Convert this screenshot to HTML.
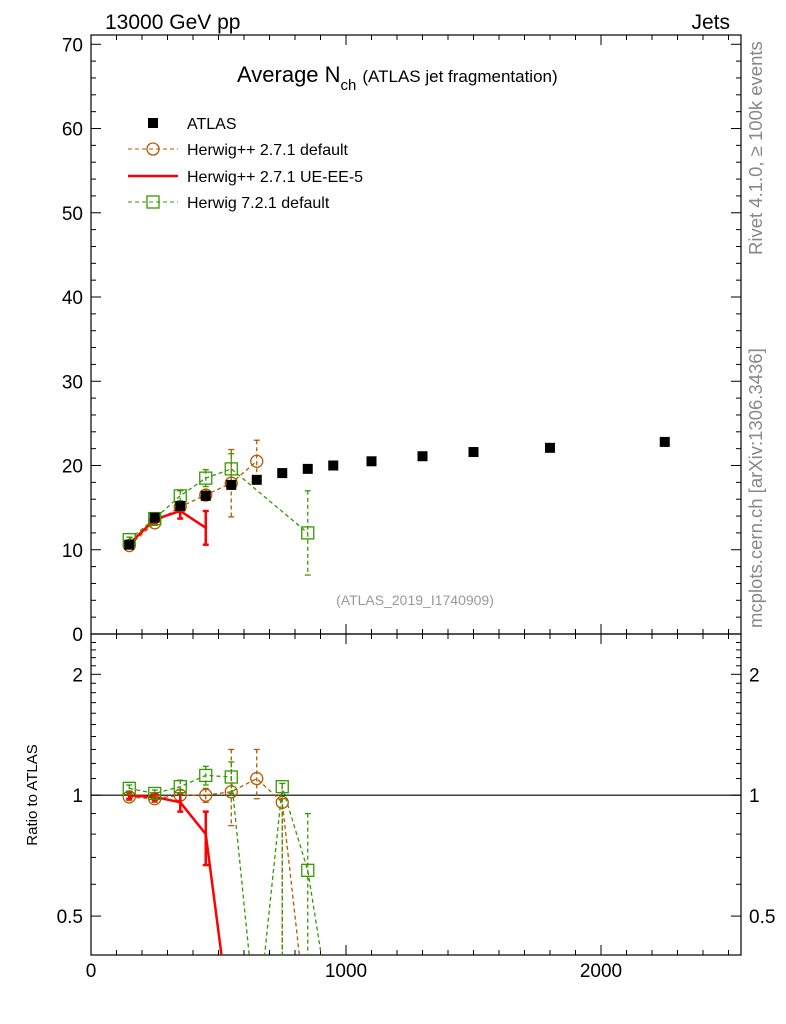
<!DOCTYPE html>
<html><head><meta charset="utf-8"><style>
html,body{margin:0;background:#fff;overflow:hidden;width:786px;height:1024px;}
svg{font-family:"Liberation Sans",sans-serif;display:block;}
</style></head><body>
<svg id="c" width="786" height="1024" xmlns="http://www.w3.org/2000/svg">
<text x="105" y="29" font-size="21">13000 GeV pp</text>
<text x="730" y="29" font-size="21" text-anchor="end">Jets</text>
<text x="237" y="82" font-size="22">Average N<tspan font-size="15" dy="8">ch</tspan><tspan font-size="17" dy="-8" dx="6">(ATLAS jet fragmentation)</tspan></text>
<text transform="translate(762,255) rotate(-90)" font-size="18.5" fill="#888">Rivet 4.1.0, ≥ 100k events</text>
<text transform="translate(762,628) rotate(-90)" font-size="18.5" fill="#888">mcplots.cern.ch [arXiv:1306.3436]</text>
<text x="415" y="605" font-size="14" fill="#999" text-anchor="middle">(ATLAS_2019_I1740909)</text>
<text transform="translate(37,795) rotate(-90)" font-size="15" text-anchor="middle">Ratio to ATLAS</text>
<g id="legend">
<g><rect x="148" y="118" width="10" height="10" fill="#000"/><text x="187" y="129" font-size="16">ATLAS</text></g>
<g><line x1="128" y1="149" x2="178" y2="149" stroke="#b35900" stroke-dasharray="4,3"/><circle cx="153" cy="149" r="6" fill="none" stroke="#b35900" stroke-width="1.3"/><text x="187" y="155" font-size="16">Herwig++ 2.7.1 default</text></g>
<g><line x1="128" y1="176" x2="178" y2="176" stroke="#f00" stroke-width="2.5"/><text x="187" y="182" font-size="16">Herwig++ 2.7.1 UE-EE-5</text></g>
<g><line x1="128" y1="202" x2="178" y2="202" stroke="#339900" stroke-dasharray="4,3"/><rect x="147" y="196" width="12" height="12" fill="none" stroke="#339900" stroke-width="1.3"/><text x="187" y="208" font-size="16">Herwig 7.2.1 default</text></g>
</g>
</svg>
<script>
const xs=[150,250,350,450,550,650,750,850,950,1100,1300,1500,1800,2250];
const atlas=[10.6,13.8,15.2,16.4,17.7,18.3,19.1,19.6,20.0,20.5,21.1,21.6,22.1,22.8];
const hppX=[150,250,350,450,550,650];
const hpp=[10.5,13.2,15.1,16.5,17.9,20.5];
const hppErr=[0.3,0.3,0.4,0.6,4.0,2.5];
const ueX=[150,250,350,450];
const ue=[10.7,13.6,14.6,12.6];
const ueErr=[0.3,0.4,0.9,2.0];
const h7X=[150,250,350,450,550,850];
const h7=[11.2,13.7,16.4,18.5,19.6,12.0];
const h7Err=[0.3,0.4,0.6,1.0,1.8,5.0];
const rX=[150,250,350,450,550,650,750,850,950];
const rHpp=[0.99,0.98,1.0,1.0,1.02,1.1,0.96,0.0];
const rHppUp=[0.02,0.02,0.03,0.04,0.28,0.2,0.02,0];
const rHppDn=[0.02,0.02,0.03,0.04,0.18,0.12,1.0,0];
const rUe=[1.0,0.99,0.96,0.80,0.0];
const rUeUp=[0.02,0.02,0.05,0.11,0];
const rUeDn=[0.02,0.02,0.05,0.13,0];
const rH7=[1.04,1.01,1.05,1.12,1.11,0.0,1.05,0.65,0.0];
const rH7Up=[0.02,0.02,0.04,0.06,0.1,0,0.02,0.25,0];
const rH7Dn=[0.02,0.02,0.04,0.06,0.1,0,1.0,0.4,0];
const yTicks=[0,10,20,30,40,50,60,70];
const rTicks=[0.5,1,2];
const xTicks=[0,1000,2000];

const NS="http://www.w3.org/2000/svg";const svg=document.getElementById('c');
const L=91,R=741,T=35,M=634,B=955;
const X=v=>L+(v/2549)*(R-L);
const Y=v=>M-(v/71.1)*(M-T);
const rLo=0.4,rHi=2.52;
const YR=v=>{if(v<=0.05)return 1030;return M+(Math.log(rHi)-Math.log(v))/(Math.log(rHi)-Math.log(rLo))*(B-M);};
function el(t,a,p){const e=document.createElementNS(NS,t);for(const k in a)e.setAttribute(k,a[k]);(p||svg).appendChild(e);return e;}
const defs=el('defs',{});
const cp1=el('clipPath',{id:'cm'},defs);el('rect',{x:L,y:T,width:R-L,height:M-T},cp1);
const cp2=el('clipPath',{id:'cr'},defs);el('rect',{x:L,y:M,width:R-L,height:B-M},cp2);
const f1=el('rect',{x:L,y:T,width:R-L,height:M-T,fill:'none',stroke:'#000','stroke-width':1.2});


const f2=el('rect',{x:L,y:M,width:R-L,height:B-M,fill:'none',stroke:'#000','stroke-width':1.2});


for(let v=0;v<=70;v+=2){const y=Y(v),maj=v%10===0,l=maj?10:5;el('line',{x1:L,y1:y,x2:L+l,y2:y,stroke:'#000'});el('line',{x1:R,y1:y,x2:R-l,y2:y,stroke:'#000'});}
yTicks.forEach(v=>{const t=el('text',{x:L-8,y:Y(v)+7,'font-size':19,'text-anchor':'end'});t.textContent=v;

});
for(let v=0;v<=2500;v+=100){const x=X(v),maj=v%1000===0,l=maj?10:5;[M,B].forEach(b=>el('line',{x1:x,y1:b,x2:x,y2:b-l,stroke:'#000'}));[T,M].forEach(t=>el('line',{x1:x,y1:t,x2:x,y2:t+l,stroke:'#000'}));}
xTicks.forEach(v=>{const t=el('text',{x:X(v),y:977,'font-size':19,'text-anchor':'middle'});t.textContent=v;

});
for(let v=0.4;v<=2.5;v+=0.1){const y=YR(v);if(y<M+1||y>B-1)continue;const maj=[0.5,1,2].some(m=>Math.abs(m-v)<1e-6),l=maj?10:5;el('line',{x1:L,y1:y,x2:L+l,y2:y,stroke:'#000'});el('line',{x1:R,y1:y,x2:R-l,y2:y,stroke:'#000'});}
rTicks.forEach(v=>{const t=el('text',{x:L-8,y:YR(v)+7,'font-size':19,'text-anchor':'end'});t.textContent=v;


const t2=el('text',{x:R+8,y:YR(v)+7,'font-size':19});t2.textContent=v;

});
el('line',{x1:L,y1:YR(1),x2:R,y2:YR(1),stroke:'#000','stroke-width':1.2});
function series(xa,va,up,dn,yf,clip,color,dash,width,marker,name){
  const g=el('g',{'clip-path':'url(#'+clip+')'});
  
  
  const pts=xa.map((x,i)=>X(x)+','+yf(va[i])).join(' ');
  el('polyline',{points:pts,fill:'none',stroke:color,'stroke-width':width,'stroke-dasharray':dash||''},g);
  xa.forEach((x,i)=>{if(!up[i]&&!dn[i])return;const cx=X(x);const y1=yf(va[i]+up[i]),y2=yf(va[i]-dn[i]);
    el('line',{x1:cx,y1:y1,x2:cx,y2:y2,stroke:color,'stroke-width':width,'stroke-dasharray':dash||''},g);
    el('line',{x1:cx-3,y1:y1,x2:cx+3,y2:y1,stroke:color,'stroke-width':width},g);el('line',{x1:cx-3,y1:y2,x2:cx+3,y2:y2,stroke:color,'stroke-width':width},g);});
  if(marker)xa.forEach((x,i)=>{const cx=X(x),cy=yf(va[i]);if(cy>B)return;
    if(marker==='c')el('circle',{cx:cx,cy:cy,r:6,fill:'none',stroke:color,'stroke-width':1.3},g);
    else el('rect',{x:cx-6,y:cy-6,width:12,height:12,fill:'none',stroke:color,'stroke-width':1.3},g);});
}
series(hppX,hpp,hppErr,hppErr,Y,'cm','#b35900','4,3',1.3,'c','series-herwigpp-default');
series(ueX,ue,ueErr,ueErr,Y,'cm','#f00','',2.5,null,'series-herwigpp-ue-ee-5');
series(h7X,h7,h7Err,h7Err,Y,'cm','#339900','4,3',1.3,'s','series-herwig7-default');
xs.forEach((x,i)=>{const r=el('rect',{x:X(x)-5,y:Y(atlas[i])-5,width:10,height:10,fill:'#000'});

});
series(rX.slice(0,rHpp.length),rHpp,rHppUp,rHppDn,YR,'cr','#b35900','4,3',1.3,'c','ratio-herwigpp-default');
series(rX.slice(0,rUe.length),rUe,rUeUp,rUeDn,YR,'cr','#f00','',2.5,null,'ratio-herwigpp-ue-ee-5');
series(rX.slice(0,rH7.length),rH7,rH7Up,rH7Dn,YR,'cr','#339900','4,3',1.3,'s','ratio-herwig7-default');
svg.appendChild(document.getElementById('legend'));
</script>
</body></html>
